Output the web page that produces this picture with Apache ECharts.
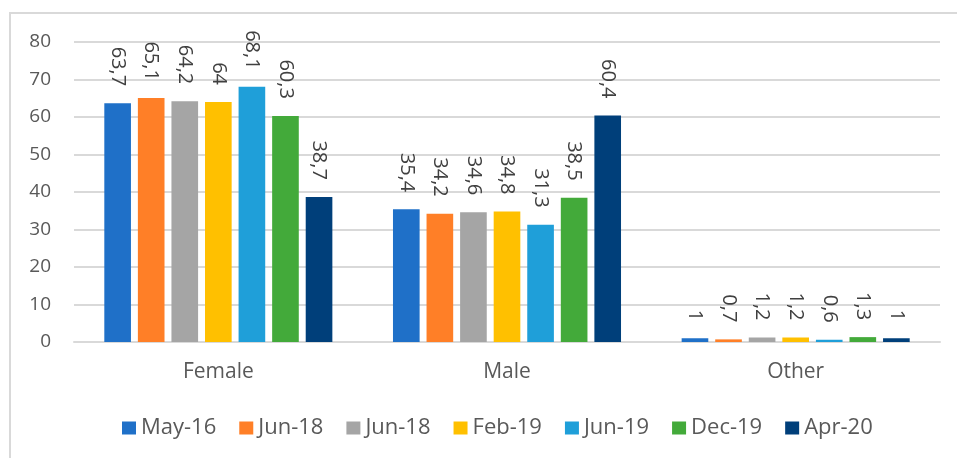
<!DOCTYPE html>
<html lang="en">
<head>
<meta charset="utf-8" />
<title>Gender distribution</title>
<script src="https://cdn.jsdelivr.net/npm/echarts@6/dist/echarts.min.js"></script>
<style>
  html, body { margin: 0; padding: 0; background: #fff; }
  #chart { width: 957px; height: 458px; }
</style>
</head>
<body>
<div id="chart"></div>
<script type="text/javascript">
// categories and series
var categories = ['Female', 'Male', 'Other'];
var seriesNames = ['May-16', 'Jun-18', 'Jun-18 ', 'Feb-19', 'Jun-19', 'Dec-19', 'Apr-20'];
var colors = ['#1f70c8', '#ff7f27', '#a5a5a5', '#ffc000', '#1f9fd9', '#43aa3a', '#003f7a'];
var may16 = [63.7, 35.4, 1];
var jun18a = [65.1, 34.2, 0.7];
var jun18b = [64.2, 34.6, 1.2];
var feb19 = [64, 34.8, 1.2];
var jun19 = [68.1, 31.3, 0.6];
var dec19 = [60.3, 38.5, 1.3];
var apr20 = [38.7, 60.4, 1];
var values = [may16, jun18a, jun18b, feb19, jun19, dec19, apr20];
var yTicks = { min: 0, max: 80, interval: 10 };

var font = '"Open Sans", "Noto Sans", sans-serif';
var chart = echarts.init(document.getElementById('chart'));

var series = seriesNames.map(function (name, i) {
  return {
    name: name,
    type: 'bar',
    data: values[i],
    barGap: '26%',
    barCategoryGap: '21%',
    itemStyle: { color: colors[i] },
    label: {
      show: true,
      position: 'top',
      rotate: -90,
      align: 'right',
      verticalAlign: 'middle',
      distance: 17,
      color: '#404040',
      fontSize: 20,
      fontFamily: font,
      formatter: function (p) { return String(p.value).replace('.', ','); }
    }
  };
});

chart.setOption({
  animation: false,
  color: colors,
  graphic: [{
    type: 'rect',
    shape: { x: 10, y: 13, width: 1000, height: 600 },
    style: { fill: 'none', stroke: '#d9d9d9', lineWidth: 2 },
    silent: true,
    z: -1
  }],
  grid: { left: 74, right: 17, top: 42, bottom: 116, containLabel: false },
  legend: {
    data: seriesNames,
    left: 117,
    top: 412,
    icon: 'rect',
    itemWidth: 14,
    itemHeight: 13,
    itemGap: 23,
    formatter: function (n) { return n.trim(); },
    textStyle: { color: '#595959', fontSize: 22, fontFamily: font }
  },
  xAxis: {
    type: 'category',
    data: categories,
    axisTick: { show: false },
    axisLine: { lineStyle: { color: '#d9d9d9', width: 2 } },
    axisLabel: { color: '#595959', fontSize: 21, fontFamily: font, margin: 20 }
  },
  yAxis: {
    type: 'value',
    min: yTicks.min,
    max: yTicks.max,
    interval: yTicks.interval,
    axisLine: { show: false },
    axisTick: { show: false },
    splitLine: { lineStyle: { color: '#d9d9d9', width: 2 } },
    axisLabel: { color: '#595959', fontSize: 19, fontFamily: font, margin: 23 }
  },
  series: series
});
</script>
</body>
</html>
